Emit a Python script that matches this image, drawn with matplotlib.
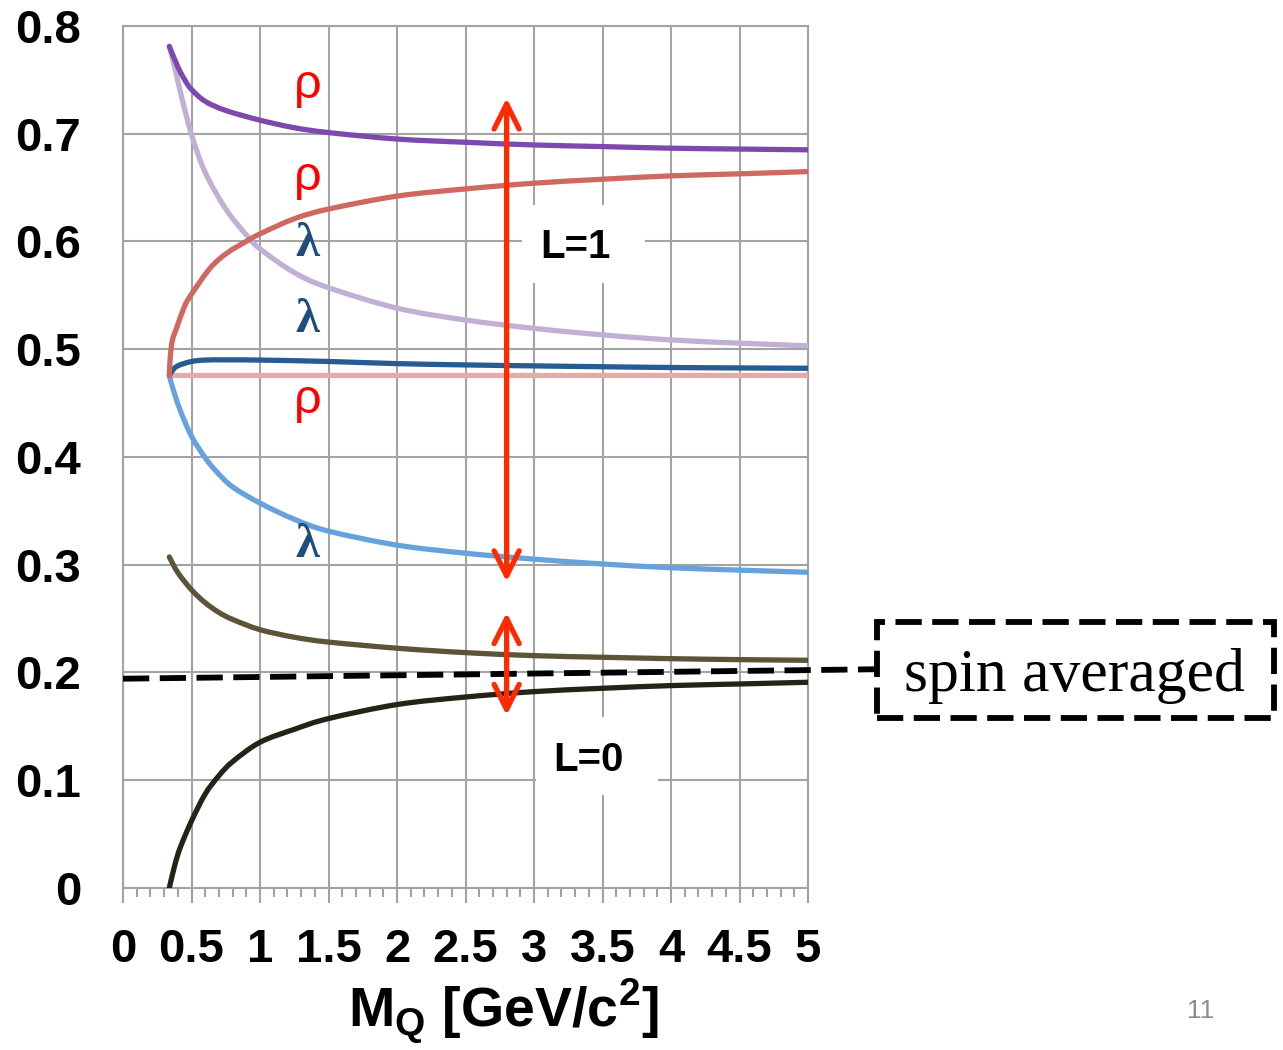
import numpy as np
import matplotlib.pyplot as plt
from matplotlib.patches import Rectangle, FancyArrowPatch, ArrowStyle, PathPatch
from matplotlib.path import Path

plt.rcParams['font.family'] = ['Liberation Sans', 'DejaVu Sans']
plt.rcParams['mathtext.fontset'] = 'custom'
plt.rcParams['mathtext.rm'] = 'Liberation Sans:bold'
plt.rcParams['mathtext.bf'] = 'Liberation Sans:bold'

# excitation energies vs diquark/quark mass M_Q
rho_hi_x = [0.338, 0.4, 0.45, 0.5, 0.6, 0.75, 1.0, 1.25, 1.5, 2.0, 2.5, 3.0, 3.5, 4.0, 4.5, 5.0]
rho_hi_y = [0.781, 0.762, 0.750, 0.741, 0.730, 0.7215, 0.7125, 0.7055, 0.701, 0.695, 0.692, 0.6895, 0.688, 0.6865, 0.6857, 0.685]

lam_hi_x = [0.338, 0.38, 0.42, 0.5, 0.6, 0.75, 0.9, 1.0, 1.25, 1.5, 2.0, 2.5, 3.0, 3.5, 4.0, 4.5, 5.0]
lam_hi_y = [0.781, 0.760, 0.738, 0.699, 0.664, 0.630, 0.606, 0.593, 0.571, 0.557, 0.538, 0.527, 0.5192, 0.5132, 0.5085, 0.5055, 0.503]

rho_mid_x = [0.338, 0.345, 0.36, 0.392, 0.45, 0.5, 0.635, 0.757, 0.9, 1.0, 1.25, 1.5, 2.0, 2.5, 3.0, 3.5, 4.0, 4.5, 5.0]
rho_mid_y = [0.4755, 0.493, 0.508, 0.520, 0.540, 0.551, 0.575, 0.589, 0.600, 0.607, 0.621, 0.630, 0.642, 0.6487, 0.654, 0.6577, 0.6608, 0.6627, 0.6648]

lam_mid_x = [0.338, 0.36, 0.4, 0.5, 0.6, 0.75, 1.0, 1.5, 2.0, 2.5, 3.0, 3.5, 4.0, 4.5, 5.0]
lam_mid_y = [0.4755, 0.480, 0.4845, 0.4885, 0.4898, 0.490, 0.4898, 0.4885, 0.4865, 0.4853, 0.4844, 0.4836, 0.4829, 0.4825, 0.4822]

rho_flat_x = [0.338, 5.0]
rho_flat_y = [0.4755, 0.4755]

lam_lo_x = [0.338, 0.36, 0.416, 0.5, 0.6, 0.684, 0.8, 1.0, 1.25, 1.5, 2.0, 2.5, 3.0, 3.5, 4.0, 4.5, 5.0]
lam_lo_y = [0.4755, 0.465, 0.4436, 0.419, 0.399, 0.386, 0.372, 0.357, 0.342, 0.331, 0.318, 0.3105, 0.305, 0.3005, 0.297, 0.2948, 0.2928]

s_hi_x = [0.338, 0.4, 0.5, 0.6, 0.7, 0.8, 1.0, 1.25, 1.5, 2.0, 2.5, 3.0, 3.5, 4.0, 4.5, 5.0]
s_hi_y = [0.307, 0.2925, 0.2765, 0.2645, 0.2555, 0.249, 0.2395, 0.2325, 0.228, 0.2223, 0.2182, 0.2154, 0.2139, 0.2126, 0.2117, 0.2111]

s_lo_x = [0.338, 0.38, 0.42, 0.5, 0.6, 0.7, 0.8, 1.0, 1.25, 1.5, 2.0, 2.5, 3.0, 3.5, 4.0, 4.5, 5.0]
s_lo_y = [0.0, 0.022, 0.038, 0.062, 0.087, 0.104, 0.117, 0.135, 0.147, 0.157, 0.170, 0.177, 0.182, 0.1851, 0.1876, 0.1891, 0.1907]

avg_x = [0.0, 5.51]
avg_y = [0.194, 0.2028]

xticks = [0, 0.5, 1, 1.5, 2, 2.5, 3, 3.5, 4, 4.5, 5]
xtick_labels = ['0', '0.5', '1', '1.5', '2', '2.5', '3', '3.5', '4', '4.5', '5']
yticks = [0, 0.1, 0.2, 0.3, 0.4, 0.5, 0.6, 0.7, 0.8]
ytick_labels = ['0', '0.1', '0.2', '0.3', '0.4', '0.5', '0.6', '0.7', '0.8']

grid_c = '#a3a3a3'
red = '#ff2a00'
rho_c = '#ff0000'
lam_c = '#1f4e7a'


def smooth_line(ax, x, y, color, lw=3.8):
    # smoothed line through the points (cubic Bezier segments, like a spreadsheet "smooth line")
    pts = np.column_stack([x, y])
    verts = [pts[0]]
    codes = [Path.MOVETO]
    n = len(pts)
    for i in range(n - 1):
        p0 = pts[i - 1] if i > 0 else pts[i]
        p1, p2 = pts[i], pts[i + 1]
        p3 = pts[i + 2] if i + 2 < n else pts[i + 1]
        verts += [p1 + (p2 - p0) / 6, p2 - (p3 - p1) / 6, p2]
        codes += [Path.CURVE4] * 3
    patch = PathPatch(Path(verts, codes), fill=False, edgecolor=color, lw=lw,
                      capstyle='round', joinstyle='round', zorder=3)
    ax.add_patch(patch)


fig = plt.figure(figsize=(12.83, 10.5), dpi=100)
ax = fig.add_axes([0.0959, 0.1546, 0.5339, 0.8207])
ax.set_xlim(0, 5)
ax.set_ylim(0, 0.8)
ax.set_xticks(xticks)
ax.set_xticklabels(xtick_labels, fontsize=34, fontweight='bold')
ax.set_yticks(yticks)
ax.set_yticklabels(ytick_labels, fontsize=34, fontweight='bold')
ax.set_xticks(np.arange(0, 5.01, 0.1), minor=True)
ax.grid(True, which='major', color=grid_c, lw=1.5)
ax.set_axisbelow(True)
ax.tick_params(axis='x', which='major', direction='out', length=10.8, width=1.5, color=grid_c, pad=18)
ax.tick_params(axis='x', which='minor', direction='out', length=6.5, width=1.5, color=grid_c)
ax.tick_params(axis='y', length=0, pad=30)
for s in ax.spines.values():
    s.set_color(grid_c)
    s.set_linewidth(1.5)

smooth_line(ax, rho_flat_x, rho_flat_y, '#e6aaa8')
smooth_line(ax, lam_mid_x, lam_mid_y, '#265c91')
smooth_line(ax, lam_lo_x, lam_lo_y, '#66a3dd')
smooth_line(ax, lam_hi_x, lam_hi_y, '#c0b0d4')
smooth_line(ax, rho_mid_x, rho_mid_y, '#cf6860')
smooth_line(ax, rho_hi_x, rho_hi_y, '#7d49ad')
smooth_line(ax, s_hi_x, s_hi_y, '#5b5437')
smooth_line(ax, s_lo_x, s_lo_y, '#262316')
ax.plot(avg_x, avg_y, color='black', lw=4.2, ls=(0, (4.5, 1.8)), clip_on=False, zorder=3)

# rho / lambda mode labels
for y, sym, c, fam, wt in [(0.745, 'ρ', rho_c, 'Liberation Sans', 'normal'),
                           (0.659, 'ρ', rho_c, 'Liberation Sans', 'normal'),
                           (0.598, 'λ', lam_c, 'Liberation Serif', 'bold'),
                           (0.527, 'λ', lam_c, 'Liberation Serif', 'bold'),
                           (0.452, 'ρ', rho_c, 'Liberation Sans', 'normal'),
                           (0.318, 'λ', lam_c, 'Liberation Serif', 'bold')]:
    ax.text(1.348, y, sym, color=c, fontsize=35, family=fam, fontweight=wt,
            ha='center', va='center', zorder=5)

# L=1 and L=0 splittings
arrow_style = ArrowStyle('<->', head_length=0.9, head_width=0.45)
for y0, y1 in [(0.284, 0.733), (0.160, 0.2553)]:
    a = FancyArrowPatch((2.8, y0), (2.8, y1), arrowstyle=arrow_style, mutation_scale=20,
                        color=red, lw=3.8, shrinkA=0, shrinkB=0, zorder=6)
    a.set_capstyle('round')
    a.set_joinstyle('round')
    ax.add_patch(a)

ax.add_patch(Rectangle((2.91, 0.561), 0.90, 0.073, facecolor='white', edgecolor='none', zorder=2))
ax.add_patch(Rectangle((3.015, 0.086), 0.89, 0.0725, facecolor='white', edgecolor='none', zorder=2))
ax.text(3.30, 0.5944, 'L=1', fontsize=29, fontweight='bold', ha='center', va='center', zorder=5)
ax.text(3.40, 0.1186, 'L=0', fontsize=29, fontweight='bold', ha='center', va='center', zorder=5)

# spin averaged box
fig.patches.append(Rectangle((0.6839, 0.3164), 0.3089, 0.0914, transform=fig.transFigure,
                             facecolor='white', edgecolor='black', lw=4.2, ls=(0, (4.5, 1.8))))
fig.text(0.8375, 0.3415, 'spin averaged', family='Liberation Serif', fontsize=44.5,
         ha='center', va='baseline')

fig.text(0.392, 0.0215, r'M$_{\mathbf{Q}}$ [GeV/c$^{\mathbf{2}}$]', fontsize=40,
         fontweight='bold', ha='center', va='baseline')
fig.text(0.9357, 0.0305, '11', fontsize=19, color='#8c8c8c', ha='center', va='baseline')

fig.savefig('out.png', dpi=100)
